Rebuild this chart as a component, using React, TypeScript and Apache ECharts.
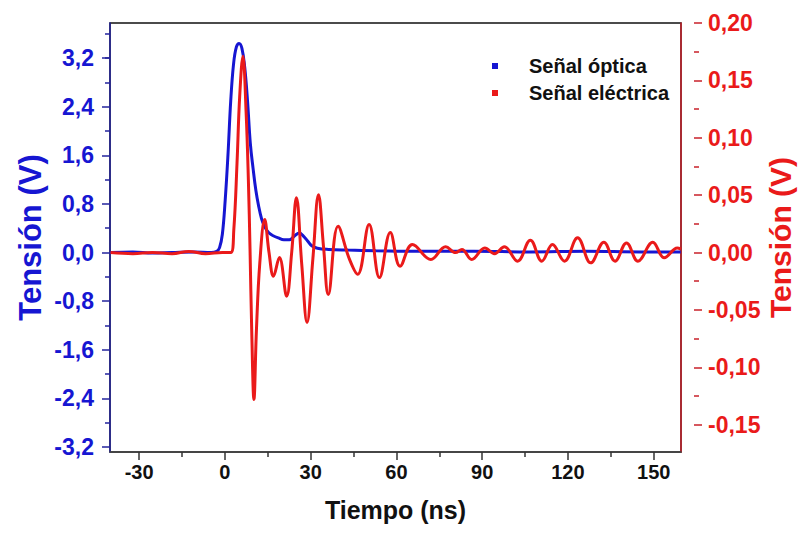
import React, { useEffect, useRef } from "react";
import * as echarts from "echarts";

// ---- data ----
const opticalTime = [-40, -32, -25, -18, -10, -4, -2, -1, 0, 1, 2, 3, 4, 5, 6, 7, 8, 9, 10, 11, 12, 13, 14, 15, 16, 17, 18, 20, 22, 24, 26, 27.5, 29, 30.5, 32, 34, 38, 45, 55, 70, 90, 110, 130, 150, 164];
const opticalVolts = [0.0, 0.01, -0.01, 0.0, 0.01, 0.0, 0.02, 0.08, 0.3, 0.85, 1.6, 2.5, 3.1, 3.38, 3.44, 3.36, 3.05, 2.5, 1.8, 1.38, 1.02, 0.76, 0.56, 0.44, 0.36, 0.31, 0.28, 0.24, 0.21, 0.21, 0.28, 0.32, 0.27, 0.19, 0.11, 0.07, 0.05, 0.04, 0.03, 0.02, 0.02, 0.01, 0.02, 0.01, 0.01];

const electricTime = [-40, -32, -25, -18, -12, -6, 0, 3, 4.1, 5.25, 6.2, 7.35, 8.5, 9.3, 9.9, 10.5, 11.3, 12.2, 13.4, 15.15, 16.7, 18.3, 20.4, 23.0, 24.8, 26.5, 28.4, 30.3, 32.4, 34.4, 36.2, 37.9, 41.4, 45.5, 48.4, 52.5, 56.2, 60.1, 63.6, 68.0, 74.6, 79.9, 83.4, 85.7, 89.2, 93.9, 97.4, 100.9, 105.6, 110.2, 114.3, 118.1, 122.4, 127.1, 131.8, 136.5, 140.5, 144.6, 148.7, 154.0, 158.1, 162.8, 164];
const electricVolts = [0.0, -0.001, 0.0, -0.001, 0.001, -0.001, 0.0, 0.0, 0.02, 0.078, 0.136, 0.171, 0.122, 0.064, 0.003, -0.067, -0.128, -0.067, -0.009, 0.0287, 0.0, -0.0206, -0.0044, -0.038, 0.0, 0.0478, -0.01, -0.0609, -0.005, 0.0504, 0.005, -0.0365, 0.0229, -0.006, -0.019, 0.0244, -0.0218, 0.0174, -0.012, 0.007, -0.006, 0.005, 0.0, 0.0026, -0.006, 0.004, -0.001, 0.005, -0.0075, 0.0107, -0.0075, 0.007, -0.0075, 0.0128, -0.009, 0.009, -0.0075, 0.0084, -0.0075, 0.009, -0.0046, 0.004, 0.003];

const seriesNames = ["Señal óptica", "Señal eléctrica"];
const xTitle = "Tiempo (ns)";
const yTitle = "Tensión (V)";

// axis extents and tick steps
const xRange = [-40.2, 164.1];
const xTickRange = [-30, 150];
const xStep = 30;
const leftRange = [-3.284, 3.778];
const leftTickRange = [-3.2, 3.2];
const leftStep = 0.8;
const rightRange = [-0.1738, 0.2];
const rightTickRange = [-0.15, 0.2];
const rightStep = 0.05;

// ---- layout ----
const W = 803;
const H = 535;
const PL = 110, PR = 694, PT = 23, PB = 452;
const FONT = "'Liberation Sans', Arial, sans-serif";
const BLUE = "#1616d2";
const BLUE_AXIS = "#23239c";
const RED = "#ea1a1a";
const RED_AXIS = "#c8202a";

const xPx = (v: number) => PL + ((v - xRange[0]) / (xRange[1] - xRange[0])) * (PR - PL);
const yLPx = (v: number) => PB - ((v - leftRange[0]) / (leftRange[1] - leftRange[0])) * (PB - PT);
const yRPx = (v: number) => PB - ((v - rightRange[0]) / (rightRange[1] - rightRange[0])) * (PB - PT);

const comma = (v: number, d: number) => v.toFixed(d).replace(".", ",");

export default function App() {
  const ref = useRef<HTMLDivElement>(null);
  useEffect(() => {
    document.body.style.margin = "0";
    const chart = echarts.init(ref.current!, null, { renderer: "svg" });
    const hiddenX = (g: number) => ({ gridIndex: g, type: "value", show: false, min: 0, max: 1, axisLine: { onZero: false } });
    const hiddenY = (g: number) => ({ gridIndex: g, type: "value", show: false, min: 0, max: 1, axisLine: { onZero: false } });
    const option: any = {
      animation: false,
      backgroundColor: "#fff",
      textStyle: { fontFamily: FONT },
      legend: {
        orient: "vertical",
        left: 487,
        top: 51,
        itemWidth: 6,
        itemHeight: 6,
        itemGap: 7,
        icon: "rect",
        data: seriesNames,
        textStyle: { fontFamily: FONT, fontWeight: "bold", fontSize: 20, color: "#111", padding: [0, 0, 0, 26] },
      },
      grid: [
        { left: PL, right: W - PR, top: PT, bottom: H - PB, show: true, borderColor: "#111", borderWidth: 1.5, backgroundColor: "transparent" },
        { left: PL, right: W - PR, top: yLPx(leftTickRange[1]), bottom: H - yLPx(leftTickRange[0]) },
        { left: PL, right: W - PR, top: yLPx(leftTickRange[1] + leftStep / 2), bottom: H - yLPx(leftTickRange[1]) },
        { left: PL, right: W - PR, top: yRPx(rightTickRange[1]), bottom: H - yRPx(rightTickRange[0]) },
        { left: xPx(xTickRange[0]), right: W - xPx(xTickRange[1]), top: PT, bottom: H - PB },
      ],
      xAxis: [
        {
          gridIndex: 0, type: "value", min: xRange[0], max: xRange[1],
          axisLine: { show: true, onZero: false, lineStyle: { color: "#444", width: 1.5 } },
          axisTick: { show: false }, axisLabel: { show: false }, splitLine: { show: false },
          name: xTitle, nameLocation: "middle", nameGap: 45,
          nameTextStyle: { fontFamily: FONT, fontWeight: "bold", fontSize: 25, color: "#111" },
        },
        hiddenX(1), hiddenX(2), hiddenX(3),
        {
          gridIndex: 4, type: "value", min: xTickRange[0], max: xTickRange[1], interval: xStep,
          axisLine: { show: false, onZero: false },
          axisTick: { show: true, length: 8, lineStyle: { color: "#333", width: 1.5 } },
          minorTick: { show: true, splitNumber: 2, length: 5, lineStyle: { color: "#333", width: 1.5 } },
          axisLabel: { margin: 10, fontFamily: FONT, fontWeight: "bold", fontSize: 20, color: "#111", formatter: (v: number) => String(v) },
          splitLine: { show: false },
        },
      ],
      yAxis: [
        {
          gridIndex: 0, type: "value", position: "left", min: leftRange[0], max: leftRange[1],
          axisLine: { show: true, onZero: false, lineStyle: { color: BLUE_AXIS, width: 1.5 } },
          axisTick: { show: false }, axisLabel: { show: false }, splitLine: { show: false },
          name: yTitle, nameLocation: "middle", nameGap: 64, nameRotate: 90,
          nameTextStyle: { fontFamily: FONT, fontWeight: "bold", fontSize: 31, color: BLUE },
        },
        {
          gridIndex: 0, type: "value", position: "right", min: rightRange[0], max: rightRange[1],
          axisLine: { show: true, onZero: false, lineStyle: { color: RED_AXIS, width: 1.5 } },
          axisTick: { show: false }, axisLabel: { show: false }, splitLine: { show: false },
          name: yTitle, nameLocation: "middle", nameGap: 84, nameRotate: 90,
          nameTextStyle: { fontFamily: FONT, fontWeight: "bold", fontSize: 30, color: RED },
        },
        {
          gridIndex: 1, type: "value", position: "left", min: leftTickRange[0], max: leftTickRange[1], interval: leftStep,
          axisLine: { show: false, onZero: false },
          axisTick: { show: true, length: 8, lineStyle: { color: BLUE_AXIS, width: 1.5 } },
          minorTick: { show: true, splitNumber: 2, length: 5, lineStyle: { color: BLUE_AXIS, width: 1.5 } },
          axisLabel: { margin: 16, fontFamily: FONT, fontWeight: "bold", fontSize: 23, color: BLUE, formatter: (v: number) => comma(v, 1) },
          splitLine: { show: false },
        },
        {
          gridIndex: 2, type: "value", position: "left", min: leftTickRange[1], max: leftTickRange[1] + leftStep / 2, interval: leftStep / 2,
          axisLine: { show: false, onZero: false },
          axisTick: { show: true, length: 5, lineStyle: { color: BLUE_AXIS, width: 1.5 } },
          axisLabel: { show: false }, splitLine: { show: false },
        },
        {
          gridIndex: 3, type: "value", position: "right", min: rightTickRange[0], max: rightTickRange[1], interval: rightStep,
          axisLine: { show: false, onZero: false },
          axisTick: { show: true, length: 8, lineStyle: { color: RED_AXIS, width: 1.5 } },
          minorTick: { show: true, splitNumber: 2, length: 5, lineStyle: { color: RED_AXIS, width: 1.5 } },
          axisLabel: { margin: 14, fontFamily: FONT, fontWeight: "bold", fontSize: 23, color: RED, formatter: (v: number) => comma(v, 2) },
          splitLine: { show: false },
        },
        hiddenY(4),
      ],
      series: [
        {
          name: seriesNames[0], type: "line", xAxisIndex: 0, yAxisIndex: 0,
          data: opticalTime.map((t, i) => [t, opticalVolts[i]]),
          smooth: 0.4, showSymbol: false, symbol: "rect",
          itemStyle: { color: BLUE },
          lineStyle: { color: BLUE, width: 3 },
        },
        {
          name: seriesNames[1], type: "line", xAxisIndex: 0, yAxisIndex: 1,
          data: electricTime.map((t, i) => [t, electricVolts[i]]),
          smooth: 0.4, showSymbol: false, symbol: "rect",
          itemStyle: { color: RED },
          lineStyle: { color: RED, width: 3 },
        },
      ],
    };
    chart.setOption(option);
    return () => chart.dispose();
  }, []);
  return <div ref={ref} style={{ position: "fixed", left: 0, top: 0, width: W, height: H }} />;
}
